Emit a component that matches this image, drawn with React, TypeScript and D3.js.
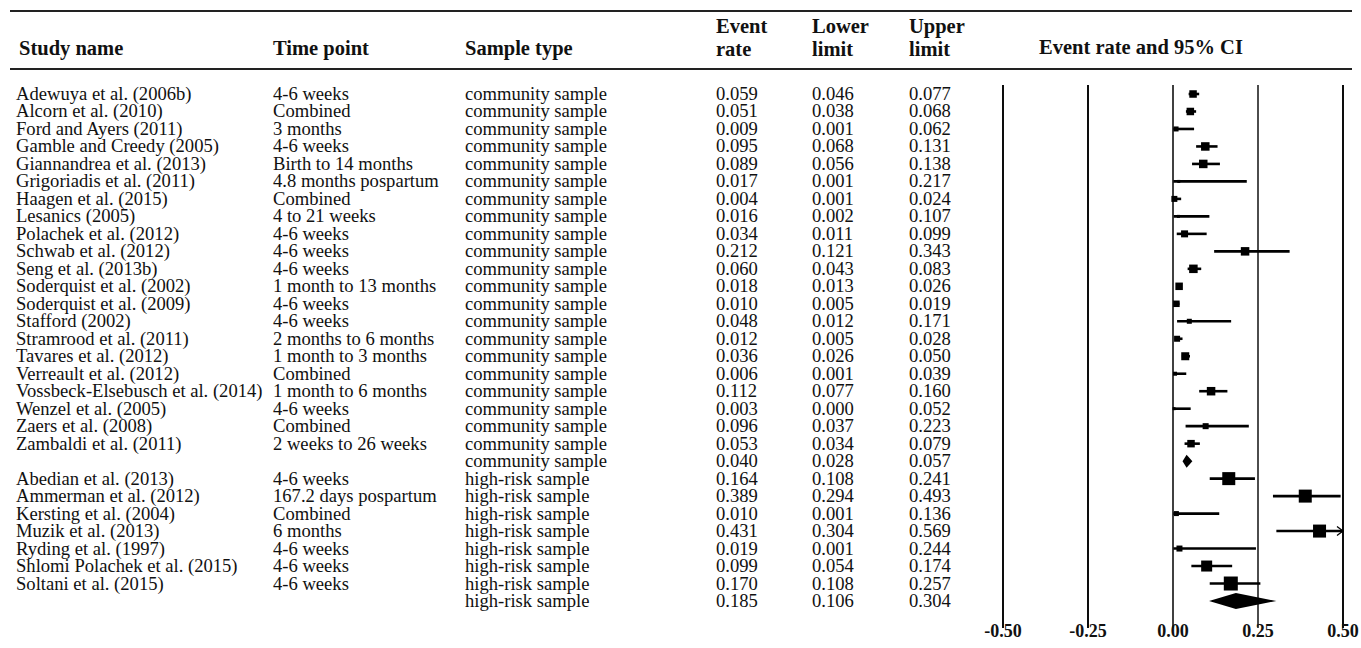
import React from "react";
import * as d3 from "d3";

const studies = [
  "Adewuya et al. (2006b)", "Alcorn et al. (2010)", "Ford and Ayers (2011)", "Gamble and Creedy (2005)",
  "Giannandrea et al. (2013)", "Grigoriadis et al. (2011)", "Haagen et al. (2015)", "Lesanics (2005)",
  "Polachek et al. (2012)", "Schwab et al. (2012)", "Seng et al. (2013b)", "Soderquist et al. (2002)",
  "Soderquist et al. (2009)", "Stafford (2002)", "Stramrood et al. (2011)", "Tavares et al. (2012)",
  "Verreault et al. (2012)", "Vossbeck-Elsebusch et al. (2014)", "Wenzel et al. (2005)", "Zaers et al. (2008)",
  "Zambaldi et al. (2011)", "",
  "Abedian et al. (2013)", "Ammerman et al. (2012)", "Kersting et al. (2004)", "Muzik et al. (2013)",
  "Ryding et al. (1997)", "Shlomi Polachek et al. (2015)", "Soltani et al. (2015)", "",
];

const timePoints = [
  "4-6 weeks", "Combined", "3 months", "4-6 weeks", "Birth to 14 months", "4.8 months pospartum",
  "Combined", "4 to 21 weeks", "4-6 weeks", "4-6 weeks", "4-6 weeks", "1 month to 13 months",
  "4-6 weeks", "4-6 weeks", "2 months to 6 months", "1 month to 3 months", "Combined",
  "1 month to 6 months", "4-6 weeks", "Combined", "2 weeks to 26 weeks", "",
  "4-6 weeks", "167.2 days pospartum", "Combined", "6 months", "4-6 weeks", "4-6 weeks", "4-6 weeks", "",
];

const sampleTypes = [
  ...Array(22).fill("community sample"),
  ...Array(8).fill("high-risk sample"),
];

const isSummary = [
  ...Array(21).fill(false), true,
  ...Array(7).fill(false), true,
];

const eventRates = [
  0.059, 0.051, 0.009, 0.095, 0.089, 0.017, 0.004, 0.016, 0.034, 0.212, 0.060, 0.018, 0.010, 0.048,
  0.012, 0.036, 0.006, 0.112, 0.003, 0.096, 0.053, 0.040,
  0.164, 0.389, 0.010, 0.431, 0.019, 0.099, 0.170, 0.185,
];
const lowerLimits = [
  0.046, 0.038, 0.001, 0.068, 0.056, 0.001, 0.001, 0.002, 0.011, 0.121, 0.043, 0.013, 0.005, 0.012,
  0.005, 0.026, 0.001, 0.077, 0.000, 0.037, 0.034, 0.028,
  0.108, 0.294, 0.001, 0.304, 0.001, 0.054, 0.108, 0.106,
];
const upperLimits = [
  0.077, 0.068, 0.062, 0.131, 0.138, 0.217, 0.024, 0.107, 0.099, 0.343, 0.083, 0.026, 0.019, 0.171,
  0.028, 0.050, 0.039, 0.160, 0.052, 0.223, 0.079, 0.057,
  0.241, 0.493, 0.136, 0.569, 0.244, 0.174, 0.257, 0.304,
];
// relative study weights
const weights = [
  7.5, 7.5, 5, 8.5, 8.5, 3, 6, 3, 7, 8.5, 8.5, 7.5, 6.5, 5, 6, 8, 4, 8.5, 3, 6, 7.5, 0,
  13, 13, 5, 13, 6, 11, 14, 0,
];

const axisTicks = [-0.5, -0.25, 0, 0.25, 0.5];
const tickLabels = ["-0.50", "-0.25", "0.00", "0.25", "0.50"];

const W = 1361;
const H = 648;
const FONT = "'Liberation Serif', 'Times New Roman', serif";

export default function App() {
  const x = d3.scaleLinear().domain([-0.5, 0.5]).range([1003, 1343]);
  const rowY = d3.scaleLinear().domain([0, 29]).range([100, 607]);
  const col = { study: 16, time: 273, sample: 465, rate: 716, lower: 812, upper: 909 };
  const fs = 18.6;
  const hfs = 20.5;
  const lineW = [1.9, 1.9, 1.5, 1.4, 1.9];

  return (
    <svg
      width={W}
      height={H}
      style={{ position: "fixed", left: 0, top: 0, background: "#fff" }}
      fontFamily={FONT}
    >
      <rect x={0} y={0} width={W} height={H} fill="#fff" />
      {/* rules */}
      <line x1={10} x2={1352} y1={11} y2={11} stroke="#222" strokeWidth={2} />
      <line x1={10} x2={1352} y1={69} y2={69} stroke="#222" strokeWidth={2} />

      {/* header */}
      <g fontWeight="bold" fontSize={hfs} fill="#111">
        <text x={col.study + 3} y={55}>Study name</text>
        <text x={col.time} y={55}>Time point</text>
        <text x={col.sample} y={55}>Sample type</text>
        <text x={col.rate} y={33}>Event</text>
        <text x={col.rate} y={56}>rate</text>
        <text x={col.lower} y={33}>Lower</text>
        <text x={col.lower} y={56}>limit</text>
        <text x={col.upper} y={33}>Upper</text>
        <text x={col.upper} y={56}>limit</text>
        <text x={1039} y={54}>Event rate and 95% CI</text>
      </g>

      {/* table body */}
      <g fontSize={fs} fill="#111">
        {studies.map((s, i) => (
          <g key={i}>
            <text x={col.study} y={rowY(i)}>{s}</text>
            <text x={col.time} y={rowY(i)}>{timePoints[i]}</text>
            <text x={col.sample} y={rowY(i)}>{sampleTypes[i]}</text>
            <text x={col.rate} y={rowY(i)}>{eventRates[i].toFixed(3)}</text>
            <text x={col.lower} y={rowY(i)}>{lowerLimits[i].toFixed(3)}</text>
            <text x={col.upper} y={rowY(i)}>{upperLimits[i].toFixed(3)}</text>
          </g>
        ))}
      </g>

      {/* reference lines */}
      {axisTicks.map((t, i) => (
        <line key={t} x1={x(t)} x2={x(t)} y1={85} y2={628} stroke="#000" strokeWidth={lineW[i]} />
      ))}
      <g fontWeight="bold" fontSize={18} fill="#111" textAnchor="middle">
        {axisTicks.map((t, i) => (
          <text key={t} x={x(t)} y={637}>{tickLabels[i]}</text>
        ))}
      </g>

      {/* forest marks */}
      {eventRates.map((r, i) => {
        const cy = rowY(i) - 6;
        const lo = Math.max(-0.5, lowerLimits[i]);
        const hi = Math.min(0.5, upperLimits[i]);
        if (isSummary[i]) {
          const h = i === 29 ? 8 : 6.5;
          const pts = [
            [x(lowerLimits[i]), cy],
            [x(r), cy - h],
            [x(upperLimits[i]), cy],
            [x(r), cy + h],
          ];
          return <polygon key={i} points={pts.map((p) => p.join(",")).join(" ")} fill="#000" />;
        }
        const s = weights[i];
        const clipped = upperLimits[i] > 0.5;
        return (
          <g key={i}>
            <line x1={x(lo)} x2={x(hi)} y1={cy} y2={cy} stroke="#000" strokeWidth={2.6} />
            {clipped && (
              <path
                d={`M${x(0.5) - 6},${cy - 4.5} L${x(0.5)},${cy} L${x(0.5) - 6},${cy + 4.5}`}
                fill="none"
                stroke="#000"
                strokeWidth={1.3}
              />
            )}
            <rect x={x(r) - s / 2} y={cy - s / 2} width={s} height={s} fill="#000" />
          </g>
        );
      })}
    </svg>
  );
}
